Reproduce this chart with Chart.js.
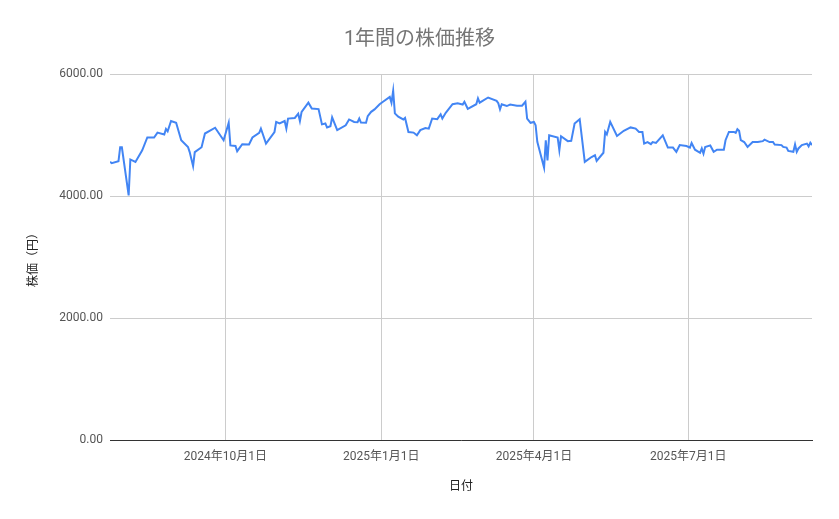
<!DOCTYPE html>
<html lang="ja">
<head>
<meta charset="utf-8">
<title>1年間の株価推移</title>
<script src="https://cdn.jsdelivr.net/npm/chart.js@4.4.1/dist/chart.umd.min.js"></script>
<style>
    html, body { margin: 0; padding: 0; background: #ffffff; }
    #wrap { width: 839px; height: 519px; }
</style>
</head>
<body>
<div id="wrap"><canvas id="stockChart" width="839" height="519"></canvas></div>
<script>
// 日付と終値
const dates = [
    '2024-07-25', '2024-07-26', '2024-07-30', '2024-07-31', '2024-08-01', '2024-08-05', '2024-08-06', '2024-08-09',
    '2024-08-13', '2024-08-16', '2024-08-20', '2024-08-22', '2024-08-26', '2024-08-27', '2024-08-28', '2024-08-30',
    '2024-09-02', '2024-09-05', '2024-09-09', '2024-09-10', '2024-09-12', '2024-09-13', '2024-09-17', '2024-09-19',
    '2024-09-25', '2024-09-30', '2024-10-03', '2024-10-04', '2024-10-07', '2024-10-08', '2024-10-11', '2024-10-15',
    '2024-10-17', '2024-10-21', '2024-10-22', '2024-10-23', '2024-10-25', '2024-10-30', '2024-10-31', '2024-11-02',
    '2024-11-05', '2024-11-06', '2024-11-07', '2024-11-11', '2024-11-13', '2024-11-14', '2024-11-15', '2024-11-19',
    '2024-11-21', '2024-11-25', '2024-11-27', '2024-11-29', '2024-11-30', '2024-12-02', '2024-12-03', '2024-12-06',
    '2024-12-11', '2024-12-13', '2024-12-16', '2024-12-18', '2024-12-19', '2024-12-20', '2024-12-23', '2024-12-24',
    '2024-12-26', '2024-12-28', '2024-12-31', '2025-01-02', '2025-01-06', '2025-01-07', '2025-01-08', '2025-01-09',
    '2025-01-11', '2025-01-14', '2025-01-15', '2025-01-17', '2025-01-20', '2025-01-22', '2025-01-24', '2025-01-27',
    '2025-01-29', '2025-01-31', '2025-02-03', '2025-02-05', '2025-02-06', '2025-02-08', '2025-02-12', '2025-02-15',
    '2025-02-18', '2025-02-19', '2025-02-21', '2025-02-26', '2025-02-27', '2025-02-28', '2025-03-05', '2025-03-10',
    '2025-03-11', '2025-03-12', '2025-03-13', '2025-03-16', '2025-03-18', '2025-03-22', '2025-03-25', '2025-03-27',
    '2025-03-28', '2025-03-30', '2025-04-01', '2025-04-02', '2025-04-03', '2025-04-07', '2025-04-08', '2025-04-09',
    '2025-04-10', '2025-04-15', '2025-04-16', '2025-04-17', '2025-04-21', '2025-04-23', '2025-04-25', '2025-04-28',
    '2025-05-01', '2025-05-05', '2025-05-07', '2025-05-08', '2025-05-12', '2025-05-13', '2025-05-14', '2025-05-16',
    '2025-05-20', '2025-05-24', '2025-05-28', '2025-05-31', '2025-06-02', '2025-06-04', '2025-06-05', '2025-06-07',
    '2025-06-09', '2025-06-10', '2025-06-12', '2025-06-16', '2025-06-19', '2025-06-22', '2025-06-24', '2025-06-26',
    '2025-06-30', '2025-07-02', '2025-07-03', '2025-07-05', '2025-07-08', '2025-07-09', '2025-07-10', '2025-07-11',
    '2025-07-14', '2025-07-16', '2025-07-18', '2025-07-22', '2025-07-23', '2025-07-25', '2025-07-28', '2025-07-29',
    '2025-07-30', '2025-07-31', '2025-08-01', '2025-08-03', '2025-08-05', '2025-08-08', '2025-08-11', '2025-08-14',
    '2025-08-15', '2025-08-18', '2025-08-20', '2025-08-21', '2025-08-25', '2025-08-26', '2025-08-28', '2025-08-29',
    '2025-09-01', '2025-09-02', '2025-09-03', '2025-09-04', '2025-09-06', '2025-09-09', '2025-09-10', '2025-09-11',
    '2025-09-12'
];

const prices = [
    4560, 4540, 4570, 4800, 4800, 4010, 4600, 4560,
    4750, 4960, 4960, 5040, 5010, 5100, 5060, 5230,
    5200, 4915, 4805, 4720, 4490, 4720, 4800, 5025,
    5120, 4915, 5200, 4830, 4820, 4735, 4850, 4845,
    4960, 5035, 5105, 5025, 4860, 5050, 5215, 5190,
    5230, 5105, 5270, 5280, 5350, 5230, 5380, 5530,
    5435, 5425, 5175, 5190, 5125, 5145, 5290, 5080,
    5160, 5255, 5215, 5210, 5270, 5205, 5200, 5310,
    5380, 5420, 5505, 5545, 5625, 5530, 5725, 5355,
    5300, 5255, 5280, 5050, 5040, 4995, 5080, 5115,
    5105, 5270, 5260, 5340, 5270, 5365, 5505, 5520,
    5500, 5545, 5430, 5505, 5600, 5530, 5615, 5560,
    5520, 5420, 5505, 5475, 5500, 5480, 5480, 5545,
    5270, 5200, 5215, 5160, 4890, 4465, 4915, 4585,
    4995, 4960, 4750, 4980, 4900, 4905, 5190, 5260,
    4560, 4640, 4670, 4575, 4710, 5050, 5010, 5215,
    4985, 5070, 5125, 5105, 5050, 5050, 4860, 4885,
    4850, 4885, 4870, 4995, 4795, 4795, 4725, 4835,
    4820, 4795, 4870, 4760, 4710, 4780, 4695, 4805,
    4830, 4725, 4760, 4760, 4915, 5050, 5050, 5035,
    5095, 5070, 4915, 4885, 4805, 4885, 4885, 4900,
    4925, 4885, 4885, 4845, 4835, 4805, 4795, 4740,
    4725, 4845, 4725, 4780, 4835, 4860, 4815, 4875,
    4835
];

// 目盛り
const xTickDates = ['2024-10-01', '2025-01-01', '2025-04-01', '2025-07-01'];
const yTicks = [0, 2000, 4000, 6000];

const FONT = "Roboto, 'Noto Sans CJK JP', sans-serif";

function toDay(s) {
    const p = s.split('-').map(Number);
    return Date.UTC(p[0], p[1] - 1, p[2]) / 86400000;
}

function formatarData(day) {
    const d = new Date(day * 86400000);
    return d.getUTCFullYear() + '年' + (d.getUTCMonth() + 1) + '月' + d.getUTCDate() + '日';
}

const pontos = dates.map((d, i) => ({ x: toDay(d), y: prices[i] }));

var ctx = document.getElementById('stockChart').getContext('2d');
var stockChart = new Chart(ctx, {
    type: 'line',
    data: {
        datasets: [{
            label: '株価（円）',
            data: pontos,
            borderColor: '#4285f4',
            borderWidth: 2,
            pointRadius: 0,
            tension: 0,
            fill: false
        }]
    },
    options: {
        responsive: false,
        animation: false,
        layout: { padding: { left: 27, right: 27, top: 0, bottom: 0 } },
        plugins: {
            legend: { display: false },
            tooltip: { enabled: false },
            title: {
                display: true,
                text: '1年間の株価推移',
                color: '#757575',
                font: { family: FONT, size: 20, weight: 'normal' },
                padding: { top: 28, bottom: 22 }
            }
        },
        scales: {
            x: {
                type: 'linear',
                min: toDay(dates[0]),
                max: toDay(dates[dates.length - 1]),
                afterBuildTicks: function (scale) {
                    scale.ticks = xTickDates.map(d => ({ value: toDay(d) }));
                },
                ticks: {
                    autoSkip: false,
                    maxRotation: 0,
                    padding: 10,
                    color: '#555555',
                    font: { family: FONT, size: 12 },
                    callback: function (value) { return formatarData(value); }
                },
                grid: { color: '#cccccc', drawTicks: false },
                border: { display: true, color: '#333333', width: 1 },
                title: {
                    display: true,
                    text: '日付',
                    color: '#222222',
                    font: { family: FONT, size: 12 },
                    padding: { top: 5, bottom: 25 }
                }
            },
            y: {
                min: 0,
                max: 6000,
                afterBuildTicks: function (scale) {
                    scale.ticks = yTicks.map(v => ({ value: v }));
                },
                afterFit: function (scale) { scale.width = 83; },
                ticks: {
                    padding: 7,
                    color: '#555555',
                    font: { family: FONT, size: 12 },
                    callback: function (value) { return value.toFixed(2); }
                },
                grid: { color: '#cccccc', drawTicks: false },
                border: { display: false },
                title: {
                    display: true,
                    text: '株価（円）',
                    color: '#222222',
                    font: { family: FONT, size: 12 },
                    padding: { top: 0, bottom: 0 }
                }
            }
        }
    }
});
</script>
</body>
</html>
